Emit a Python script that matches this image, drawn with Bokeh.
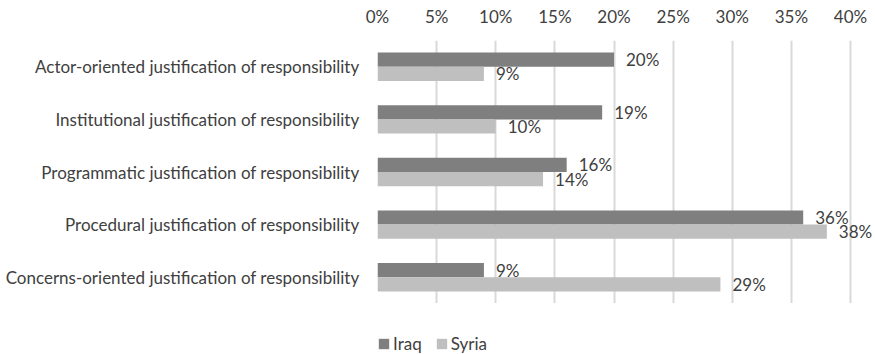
from bokeh.plotting import figure
from bokeh.layouts import column
from bokeh.models import (FactorRange, LinearAxis, FixedTicker, PrintfTickFormatter,
                          ColumnDataSource, Legend, LegendItem, Range1d)
from bokeh.transform import dodge
from bokeh.core.properties import value
from bokeh.embed import file_html
from bokeh.resources import INLINE

categories = [
    "Actor-oriented justification of responsibility",
    "Institutional justification of responsibility",
    "Programmatic justification of responsibility",
    "Procedural justification of responsibility",
    "Concerns-oriented justification of responsibility",
]
series = ["Iraq", "Syria"]
iraq = [20, 19, 16, 36, 9]
syria = [9, 10, 14, 38, 29]
x_ticks = [0, 5, 10, 15, 20, 25, 30, 35, 40]

FONT = "Lato"
FS = "17px"
TXT = "#404040"
C_IRAQ = "#7f7f7f"
C_SYRIA = "#bfbfbf"

src = ColumnDataSource(dict(
    cat=categories,
    iraq=iraq,
    syria=syria,
    iraq_lbl=[f"{v}%" for v in iraq],
    syria_lbl=[f"{v}%" for v in syria],
))

p = figure(width=875, height=303, output_backend="svg", toolbar_location=None,
           y_range=FactorRange(factors=list(reversed(categories))),
           x_range=Range1d(0, 40 * (875 - 377) / (850 - 377)), x_axis_location=None,
           min_border_left=377, min_border_right=0, min_border_top=40,
           min_border_bottom=0)
p.outline_line_color = None
p.background_fill_color = "white"
p.border_fill_color = "white"

bh = 0.27
r1 = p.hbar(y=dodge("cat", bh / 2, range=p.y_range), right="iraq", left=0, height=bh,
            source=src, fill_color=C_IRAQ, line_color=None)
r2 = p.hbar(y=dodge("cat", -bh / 2, range=p.y_range), right="syria", left=0, height=bh,
            source=src, fill_color=C_SYRIA, line_color=None)

p.text(x="iraq", y=dodge("cat", bh / 2, range=p.y_range), text="iraq_lbl", source=src,
       x_offset=12, text_align="left", text_baseline="middle",
       text_font=value(FONT), text_font_size=FS, text_color=TXT)
p.text(x="syria", y=dodge("cat", -bh / 2, range=p.y_range), text="syria_lbl", source=src,
       x_offset=12, text_align="left", text_baseline="middle",
       text_font=value(FONT), text_font_size=FS, text_color=TXT)

top = LinearAxis(ticker=FixedTicker(ticks=x_ticks),
                 formatter=PrintfTickFormatter(format="%d%%"))
top.axis_line_color = None
top.major_tick_line_color = None
top.minor_tick_line_color = None
top.major_tick_out = 0
top.major_tick_in = 0
top.minor_tick_out = 0
top.major_label_standoff = 14
top.major_label_text_font = FONT
top.major_label_text_font_size = FS
top.major_label_text_color = TXT
p.add_layout(top, "above")

p.xgrid.ticker = FixedTicker(ticks=x_ticks)
p.xgrid.grid_line_color = "#d9d9d9"
p.xgrid.grid_line_width = 2
p.ygrid.grid_line_color = None

ya = p.yaxis[0]
ya.axis_line_color = None
ya.major_tick_line_color = None
ya.minor_tick_line_color = None
ya.major_tick_out = 0
ya.major_tick_in = 0
ya.major_label_standoff = 18
ya.major_label_text_font = FONT
ya.major_label_text_font_size = FS
ya.major_label_text_color = TXT

# legend strip below the chart
q = figure(width=875, height=51, output_backend="svg", toolbar_location=None,
           x_axis_location=None, y_axis_location=None,
           x_range=Range1d(1, 2), y_range=Range1d(1, 2),
           min_border_left=368, min_border_right=0, min_border_top=0, min_border_bottom=0)
q.outline_line_color = None
q.grid.visible = False
q.border_fill_color = "white"
lsrc = ColumnDataSource(dict(y=[0], right=[0]))
g1 = q.hbar(y="y", right="right", left=0, height=0, source=lsrc,
            fill_color=C_IRAQ, line_color=None)
g2 = q.hbar(y="y", right="right", left=0, height=0, source=lsrc,
            fill_color=C_SYRIA, line_color=None)
legend = Legend(items=[LegendItem(label=series[0], renderers=[g1]),
                       LegendItem(label=series[1], renderers=[g2])],
                orientation="horizontal", location="bottom_left",
                glyph_width=13, glyph_height=13, label_standoff=3, spacing=13,
                label_height=18,
                label_text_font=FONT, label_text_font_size=FS,
                label_text_color=TXT, border_line_color=None,
                padding=0, margin=0, background_fill_alpha=0)
q.add_layout(legend, "center")

open("out.html", "w").write(file_html(column(p, q, spacing=0), INLINE))
